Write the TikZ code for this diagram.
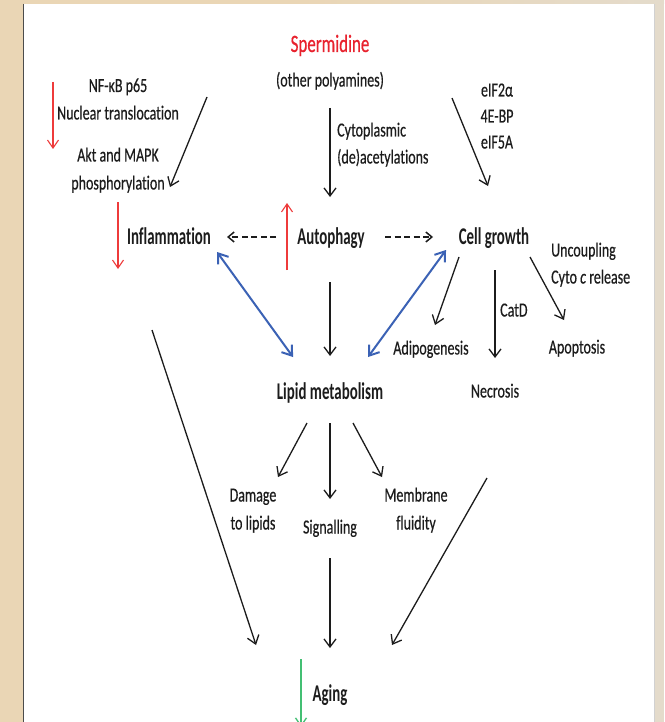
\documentclass[tikz,border=0pt]{standalone}
\usepackage{fontspec}
\setmainfont{Carlito}[FakeStretch=0.7, FakeBold=0.4, Ligatures=NoCommon]
\newfontfamily\mainfnt{Carlito}[FakeStretch=0.62, Ligatures=NoCommon]
\usetikzlibrary{arrows.meta}
\definecolor{beigeL}{HTML}{EAD6B5}
\definecolor{beigeR}{HTML}{E4DBCB}
\definecolor{spred}{HTML}{E8222E}
\definecolor{arred}{HTML}{EE3B3B}
\definecolor{blu}{HTML}{3B62B5}
\definecolor{grn}{HTML}{43BF73}
\definecolor{txt}{HTML}{1C1C1C}
\tikzset{
  lbl/.style={font=\fontsize{20}{26}\selectfont, inner sep=0pt, text=txt, anchor=base},
  lblw/.style={lbl, anchor=base west},
  mainnode/.style={font=\mainfnt\fontsize{24}{26}\selectfont\bfseries, inner sep=0pt, text=txt, anchor=base},
  arr/.style={draw=txt, line width=1.3pt, -{Straight Barb[length=8pt,width=12pt,line width=1.3pt]}},
  redarr/.style={draw=arred, line width=1.1pt, -{Straight Barb[length=8pt,width=11pt,line width=1.1pt]}},
  bluarr/.style={draw=blu, line width=2pt, {Straight Barb[length=9pt,width=13pt,line width=2pt]}-{Straight Barb[length=9pt,width=13pt,line width=2pt]}},
  dasharr/.style={draw=txt, line width=1.5pt, dash pattern=on 6pt off 3.5pt, -{Straight Barb[length=6pt,width=10pt,line width=1.5pt]}},
  grnarr/.style={draw=grn, line width=1.3pt, -{Straight Barb[length=8pt,width=11pt,line width=1.3pt]}},
}
\begin{document}
\begin{tikzpicture}[x=1pt,y=-1pt]
\useasboundingbox (0,0) rectangle (664,722);
\clip (0,0) rectangle (664,722);
% background
\fill[beigeL] (0,0) rectangle (664,722);
\shade[left color=beigeL, right color=beigeR] (300,0) rectangle (664,4);
\fill[beigeR] (655,0) rectangle (664,722);
\fill[white] (23,4) rectangle (655,722);
\draw[black!70, line width=1.5pt] (23.5,4) -- (23.5,722);
\draw[black!18, line width=1.2pt] (654.6,4) -- (654.6,722);

% top texts
\node[lbl, text=spred, font=\fontsize{25}{26}\selectfont, xscale=0.97] (sperm) at (330,52) {Spermidine};
\node[lbl] (poly) at (330,86.5) {(other polyamines)};
\node[lbl] (nf1) at (118,92) {NF-κB p65};
\node[lbl] (nf2) at (118,119.5) {Nuclear translocation};
\node[lbl] (akt1) at (118,161.5) {Akt and MAPK};
\node[lbl] (akt2) at (118,189.5) {phosphorylation};
\node[lbl] (eif1) at (497,96.5) {eIF2α};
\node[lbl] (eif2) at (497,122.5) {4E-BP};
\node[lbl] (eif3) at (497,148.5) {eIF5A};
\node[lblw] (cyto1) at (337,136.5) {Cytoplasmic};
\node[lblw] (cyto2) at (337,163.5) {(de)acetylations};

% main row
\node[mainnode] (infl) at (169,244.7) {Inflammation};
\node[mainnode] (auto) at (331,244.7) {Autophagy};
\node[mainnode] (cell) at (494,244.7) {Cell growth};
\node[lblw] (unc1) at (551,256.5) {Uncoupling};
\node[lblw] (unc2) at (551,283.5) {Cyto \textit{c} release};
\node[lblw] (catd) at (500,316.5) {CatD};
\node[lbl] (adipo) at (431,354.5) {Adipogenesis};
\node[lbl] (apop) at (577,353.5) {Apoptosis};
\node[lbl] (necro) at (495,397.5) {Necrosis};
\node[mainnode] (lipid) at (330,399.7) {Lipid metabolism};
\node[lbl] (dam1) at (253,501.5) {Damage};
\node[lbl] (dam2) at (253,529.5) {to lipids};
\node[lbl] (sig) at (330,533.5) {Signalling};
\node[lbl] (mem1) at (416,501.5) {Membrane};
\node[lbl] (mem2) at (416,529.5) {fluidity};
\node[mainnode] (aging) at (330,701.7) {Aging};

% connector end points
\coordinate (r1s) at (53,82);   \coordinate (r1e) at (53,149);
\coordinate (r2s) at (118,202); \coordinate (r2e) at (118,269);
\coordinate (r3s) at (287,270); \coordinate (r3e) at (287,203);
\coordinate (ka) at (207,97);   \coordinate (kb) at (170,187);
\coordinate (ca) at (330,108);  \coordinate (cb) at (330,197);
\coordinate (ea) at (452,98);   \coordinate (eb) at (488,186);
\coordinate (dla) at (276,237); \coordinate (dlb) at (227,237);
\coordinate (dra) at (385,237); \coordinate (drb) at (433,237);
\coordinate (bla) at (217,252); \coordinate (blb) at (293,357);
\coordinate (bra) at (446,250); \coordinate (brb) at (368,357);
\coordinate (ala) at (330,282); \coordinate (alb) at (330,356);
\coordinate (ada) at (459,257); \coordinate (adb) at (435,325);
\coordinate (nca) at (495,270); \coordinate (ncb) at (495,358);
\coordinate (apa) at (530,257); \coordinate (apb) at (564,320);
\coordinate (lla) at (152,330); \coordinate (llb) at (256,645);
\coordinate (m1a) at (307,423); \coordinate (m1b) at (278,477);
\coordinate (m2a) at (330,423); \coordinate (m2b) at (330,499);
\coordinate (m3a) at (353,423); \coordinate (m3b) at (382,477);
\coordinate (rla) at (487,478); \coordinate (rlb) at (392,645);
\coordinate (sga) at (330,558); \coordinate (sgb) at (330,648);
\coordinate (ga) at (301,659);  \coordinate (gb) at (301,727);

% connectors
\draw[redarr] (r1s) -- (r1e);
\draw[redarr] (r2s) -- (r2e);
\draw[redarr] (r3s) -- (r3e);
\draw[arr] (ka) -- (kb);
\draw[arr] (ca) -- (cb);
\draw[arr] (ea) -- (eb);
\draw[dasharr] (dla) -- (dlb);
\draw[dasharr] (dra) -- (drb);
\draw[bluarr] (bla) -- (blb);
\draw[bluarr] (bra) -- (brb);
\draw[arr] (ala) -- (alb);
\draw[arr] (ada) -- (adb);
\draw[arr] (nca) -- (ncb);
\draw[arr] (apa) -- (apb);
\draw[arr] (lla) -- (llb);
\draw[arr] (m1a) -- (m1b);
\draw[arr] (m2a) -- (m2b);
\draw[arr] (m3a) -- (m3b);
\draw[arr] (rla) -- (rlb);
\draw[arr] (sga) -- (sgb);
\draw[grnarr] (ga) -- (gb);
\end{tikzpicture}
\end{document}
